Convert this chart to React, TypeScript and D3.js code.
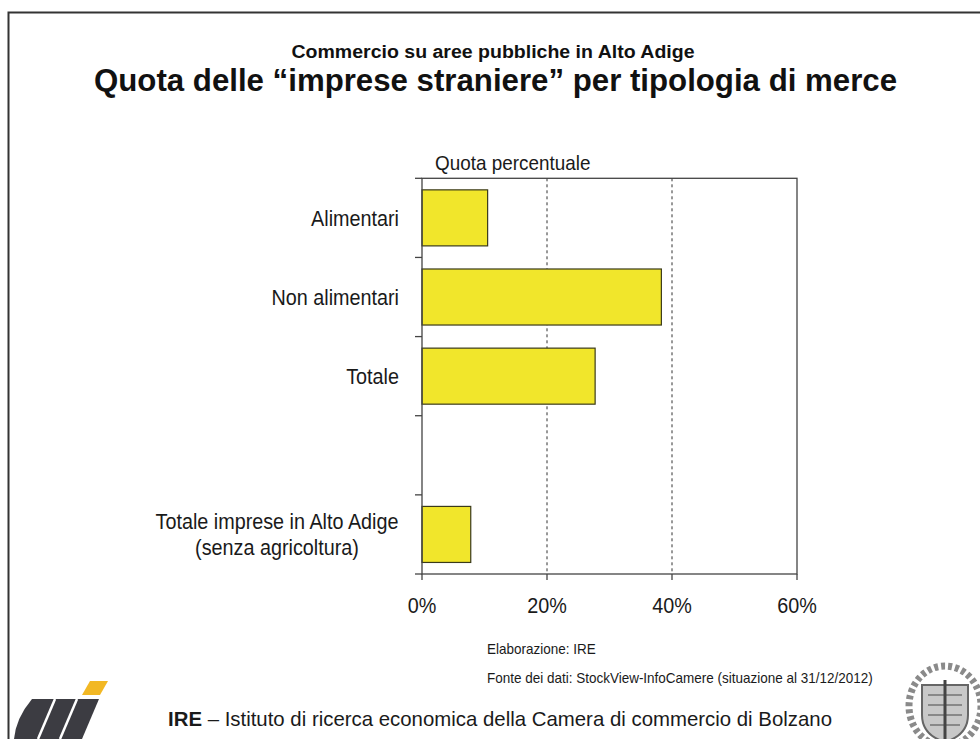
import React from "react";
import * as d3 from "d3";

// ---- data ----
const categories: string[] = [
  "Alimentari",
  "Non alimentari",
  "Totale",
  "gap",
  "Totale imprese in Alto Adige|(senza agricoltura)",
];
const shares: (number | null)[] = [10.5, 38.3, 27.7, null, 7.8];
const xTicks: number[] = [0, 20, 40, 60];
const gridTicks: number[] = [20, 40];

const subtitle = "Commercio su aree pubbliche in Alto Adige";
const title = "Quota delle \u201Cimprese straniere\u201D per tipologia di merce";
const axisTitle = "Quota percentuale";
const note1 = "Elaborazione: IRE";
const note2 = "Fonte dei dati: StockView-InfoCamere (situazione al 31/12/2012)";
const footerBold = "IRE";
const footerRest = " \u2013 Istituto di ricerca economica della Camera di commercio di Bolzano";

// ---- layout ----
const W = 980;
const H = 739;
const plot = { left: 422, right: 797, top: 178.3, bottom: 574 };
const FONT = "'Liberation Sans', Arial, Helvetica, sans-serif";
const CONDENSE = 0.9;

function CText(props: {
  x: number;
  y: number;
  size: number;
  anchor?: "start" | "middle" | "end";
  weight?: string;
  fill?: string;
  children: React.ReactNode;
}) {
  const { x, y, size, anchor = "start", weight = "normal", fill = "#1a1a1a", children } = props;
  return (
    <text
      transform={`translate(${x},${y}) scale(${CONDENSE},1)`}
      fontSize={size}
      fontFamily={FONT}
      fontWeight={weight}
      textAnchor={anchor}
      fill={fill}
    >
      {children}
    </text>
  );
}

export default function App() {
  const x = d3.scaleLinear().domain([0, 60]).range([plot.left, plot.right]);
  const y = d3
    .scaleBand<string>()
    .domain(categories)
    .range([plot.top, plot.bottom])
    .paddingInner(0.292)
    .paddingOuter(0.146);
  const boundaries = d3
    .range(categories.length + 1)
    .map((i) => plot.top + (i * (plot.bottom - plot.top)) / categories.length);

  return (
    <svg
      width={W}
      height={H}
      style={{ position: "absolute", left: 0, top: 0, display: "block", background: "#fff" }}
    >
      <rect x={0} y={0} width={W} height={H} fill="#fff" />
      {/* page frame */}
      <path d={`M8.5,${H + 2} V12.5 H${W + 2}`} fill="none" stroke="#333" strokeWidth={2} />

      {/* titles */}
      <text
        x={493}
        y={58}
        fontSize={18}
        fontWeight="bold"
        fontFamily={FONT}
        textAnchor="middle"
        textLength={403}
        lengthAdjust="spacingAndGlyphs"
        fill="#111"
      >
        {subtitle}
      </text>
      <text
        x={495.5}
        y={91}
        fontSize={32}
        fontWeight="bold"
        fontFamily={FONT}
        textAnchor="middle"
        textLength={803}
        lengthAdjust="spacingAndGlyphs"
        fill="#111"
      >
        {title}
      </text>

      <CText x={435} y={169.5} size={21}>
        {axisTitle}
      </CText>

      {/* gridlines */}
      {gridTicks.map((t) => (
        <line
          key={"g" + t}
          x1={x(t)}
          x2={x(t)}
          y1={plot.top}
          y2={plot.bottom}
          stroke="#333"
          strokeWidth={1}
          strokeDasharray="3,3"
        />
      ))}

      {/* bars */}
      {categories.map((c, i) => {
        const v = shares[i];
        if (v == null) return null;
        return (
          <rect
            key={c}
            x={x(0)}
            y={y(c)!}
            width={x(v) - x(0)}
            height={y.bandwidth()}
            fill="#F1E62B"
            stroke="#3a3a1a"
            strokeWidth={1.2}
          />
        );
      })}

      {/* plot frame */}
      <rect
        x={plot.left}
        y={plot.top}
        width={plot.right - plot.left}
        height={plot.bottom - plot.top}
        fill="none"
        stroke="#444"
        strokeWidth={1.3}
      />

      {/* left ticks at band boundaries */}
      {boundaries.map((b, i) => (
        <line key={"yt" + i} x1={plot.left - 7} x2={plot.left} y1={b} y2={b} stroke="#444" strokeWidth={1.3} />
      ))}

      {/* bottom ticks + labels */}
      {xTicks.map((t) => (
        <g key={"xt" + t}>
          <line x1={x(t)} x2={x(t)} y1={plot.bottom} y2={plot.bottom + 6} stroke="#444" strokeWidth={1.3} />
          <CText x={x(t)} y={612.7} size={22} anchor="middle">
            {`${t}%`}
          </CText>
        </g>
      ))}

      {/* category labels */}
      {categories.map((c) => {
        if (c === "gap") return null;
        const cy = (y(c) as number) + y.bandwidth() / 2;
        const lines = c.split("|");
        if (lines.length === 1) {
          return (
            <CText key={"l" + c} x={399} y={cy + 7.8} size={22} anchor="end">
              {c}
            </CText>
          );
        }
        return (
          <g key={"l" + c}>
            {lines.map((ln, j) => (
              <CText key={ln} x={277} y={cy + 7.8 + (j - (lines.length - 1) / 2) * 26} size={22} anchor="middle">
                {ln}
              </CText>
            ))}
          </g>
        );
      })}

      {/* notes */}
      <CText x={487} y={654.3} size={15}>
        {note1}
      </CText>
      <CText x={487} y={682.7} size={15}>
        {note2}
      </CText>

      {/* footer */}
      <text
        x={168}
        y={726}
        fontSize={21}
        fontFamily={FONT}
        fill="#1a1a1a"
        textLength={664}
        lengthAdjust="spacingAndGlyphs"
      >
        <tspan fontWeight="bold">{footerBold}</tspan>
        <tspan>{footerRest}</tspan>
      </text>

      {/* IRE logo (decorative) */}
      <g>
        <polygon points="82,695 90,681 108,681 100,695" fill="#F2B824" />
        <path d="M32,699 L99,699 L82,739 L14,739 Q16,718 32,699 Z" fill="#3c3c42" />
        <line x1={55} y1={699} x2={38} y2={739} stroke="#fff" strokeWidth={2.5} />
        <line x1={77} y1={699} x2={60} y2={739} stroke="#fff" strokeWidth={2.5} />
      </g>

      {/* coat of arms (decorative) */}
      <g>
        <ellipse cx={945} cy={706} rx={36} ry={40} fill="none" stroke="#8a8a8a" strokeWidth={7} strokeDasharray="4,3" />
        <path d="M922,685 H968 V715 Q968,735 945,742 Q922,735 922,715 Z" fill="#c8c8c8" stroke="#666" strokeWidth={2} />
        <path d="M928,695 H962 M928,705 H962 M928,715 H962 M930,725 H960" stroke="#888" strokeWidth={2} />
        <line x1={945} y1={680} x2={945} y2={740} stroke="#444" strokeWidth={3} />
      </g>
    </svg>
  );
}
